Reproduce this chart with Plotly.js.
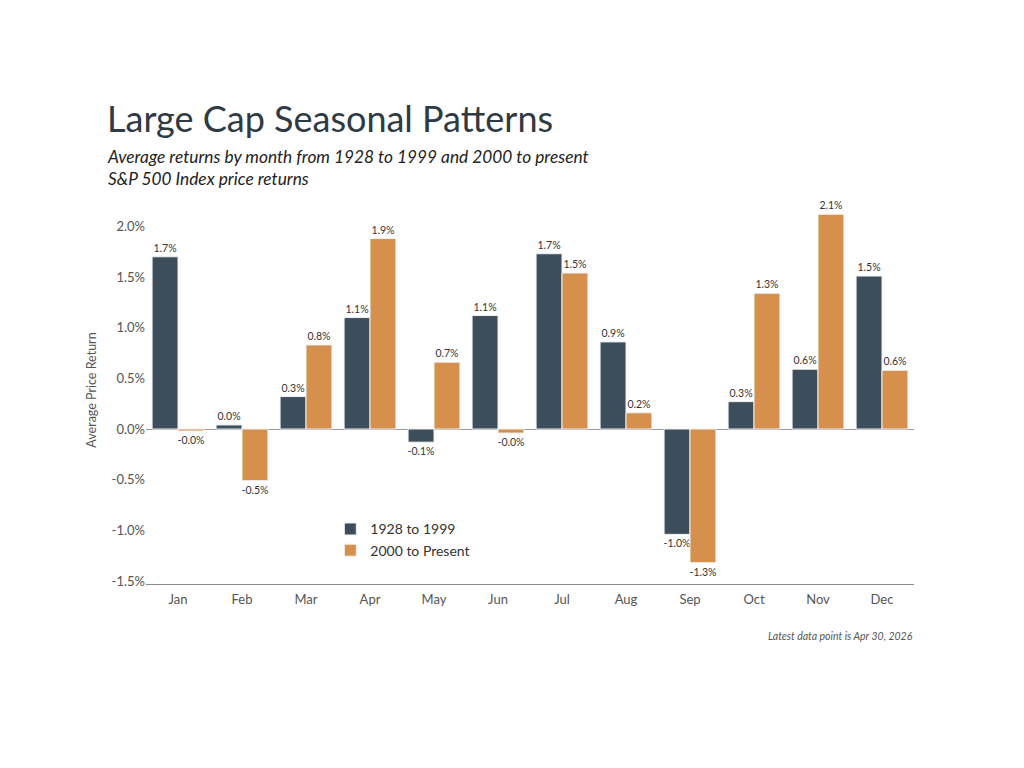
<!DOCTYPE html>
<html>
<head>
<meta charset="utf-8">
<script src="https://cdn.plot.ly/plotly-3.0.1.min.js"></script>
<style>
  html, body { margin: 0; padding: 0; background: #ffffff; }
  #chart { width: 1024px; height: 768px; }
</style>
</head>
<body>
<div id="chart"></div>
<script>
// Average monthly S&P 500 price returns (%), two eras
const months = ['Jan', 'Feb', 'Mar', 'Apr', 'May', 'Jun', 'Jul', 'Aug', 'Sep', 'Oct', 'Nov', 'Dec'];
const era1Name = '1928 to 1999';
const era2Name = '2000 to Present';
const era1Returns = [1.70, 0.04, 0.32, 1.10, -0.13, 1.12, 1.73, 0.86, -1.04, 0.27, 0.59, 1.51];
const era2Returns = [-0.02, -0.51, 0.83, 1.88, 0.66, -0.04, 1.54, 0.16, -1.32, 1.34, 2.12, 0.58];
const yTickVals = [-1.5, -1.0, -0.5, 0.0, 0.5, 1.0, 1.5, 2.0];

const fontFamily = 'Lato, "Source Sans Pro", "Noto Sans", sans-serif';
const pct = v => v.toFixed(1) + '%';

function barTrace(name, values, color) {
  return {
    type: 'bar',
    name: name,
    x: months,
    y: values,
    text: values.map(pct),
    textposition: 'outside',
    textfont: { family: fontFamily, size: 10.5, color: '#333333' },
    constraintext: 'none',
    cliponaxis: false,
    hoverinfo: 'x+y+name',
    marker: { color: color, line: { color: '#f2f2f2', width: 1 } }
  };
}

const data = [
  barTrace(era1Name, era1Returns, '#3c4d5c'),
  barTrace(era2Name, era2Returns, '#d4904c')
];

const layout = {
  width: 1024,
  height: 768,
  paper_bgcolor: '#ffffff',
  plot_bgcolor: '#ffffff',
  margin: { l: 146, r: 110, t: 196, b: 184 },
  barmode: 'group',
  bargap: 0.19,
  bargroupgap: 0,
  showlegend: true,
  legend: {
    x: 0.24, y: 0.182, xanchor: 'left', yanchor: 'top',
    bgcolor: 'rgba(0,0,0,0)',
    font: { family: fontFamily, size: 14, color: '#333333' },
    traceorder: 'normal'
  },
  font: { family: fontFamily, color: '#555555' },
  xaxis: {
    type: 'category',
    showline: true,
    linecolor: '#8a8a8a',
    linewidth: 1,
    showgrid: false,
    ticks: '',
    ticklabelstandoff: 3,
    tickfont: { family: fontFamily, size: 13, color: '#555555' },
    fixedrange: true
  },
  yaxis: {
    range: [-1.53, 2.3],
    tickvals: yTickVals,
    ticktext: yTickVals.map(pct),
    showgrid: false,
    showline: false,
    zeroline: true,
    zerolinecolor: '#9a9a9a',
    zerolinewidth: 1,
    ticks: '',
    tickfont: { family: fontFamily, size: 13, color: '#555555' },
    title: { text: 'Average Price Return', font: { family: fontFamily, size: 12.5, color: '#555555' }, standoff: 12 },
    fixedrange: true
  },
  annotations: [
    {
      text: 'Large Cap Seasonal Patterns',
      xref: 'paper', yref: 'paper', x: -0.053, y: 1.140,
      xanchor: 'left', yanchor: 'bottom', showarrow: false,
      font: { family: fontFamily, size: 36, color: '#2f3a44' }
    },
    {
      text: '<i>Average returns by month from 1928 to 1999 and 2000 to present<br>S&P 500 Index price returns</i>',
      xref: 'paper', yref: 'paper', x: -0.053, y: 1.0736,
      xanchor: 'left', yanchor: 'middle', align: 'left', showarrow: false,
      font: { family: fontFamily, size: 17.3, color: '#222222' }
    },
    {
      text: '<i>Latest data point is Apr 30, 2026</i>',
      xref: 'paper', yref: 'paper', x: 1.0015, y: -0.135,
      xanchor: 'right', yanchor: 'middle', showarrow: false,
      font: { family: fontFamily, size: 10.5, color: '#555555' }
    }
  ]
};

Plotly.newPlot('chart', data, layout, { displayModeBar: false });
</script>
</body>
</html>
